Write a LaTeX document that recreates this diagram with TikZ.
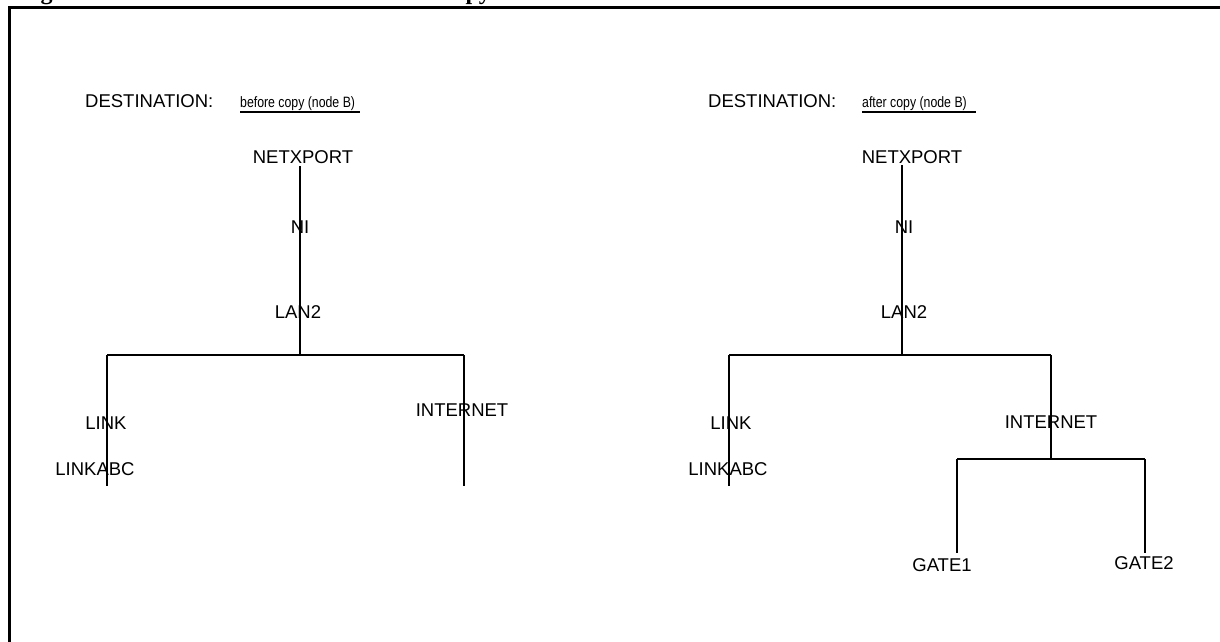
\documentclass[tikz,border=0pt]{standalone}
\usepackage{fontspec}
\setmainfont{Liberation Sans}
\newfontfamily\subfont{Liberation Sans}[FakeStretch=0.82]
\newfontfamily\titlefont{Liberation Serif}
\begin{document}
\begin{tikzpicture}[x=1pt,y=-1pt,
  lbl/.style={font=\fontsize{18.5}{20}\selectfont, inner sep=0pt},
  hdr/.style={font=\fontsize{18.5}{20}\selectfont, inner sep=0pt, anchor=base west},
  sub/.style={font=\subfont\fontsize{15}{17}\selectfont, inner sep=0pt, anchor=base west},
  ln/.style={line width=1.8pt},
  ttl/.style={font=\titlefont\bfseries\fontsize{24}{26}\selectfont, inner sep=0pt, anchor=base west}]
\useasboundingbox (0,0) rectangle (1220,641);
\clip (0,0) rectangle (1220,641);
% frame
\coordinate (fr1) at (1240,7.7);
\coordinate (fr2) at (9,7.7);
\coordinate (fr3) at (9,660);
\draw[line width=3pt] (fr1) -- (fr2) -- (fr3);
% clipped title
\node[ttl] (title1) at (19,-1) {Figure};
\node[ttl] (title2) at (436,-1) {Copy};

% ===== left tree =====
\node[hdr] (ldest) at (85,107) {DESTINATION:};
\node[sub] (lsub) at (240,107) {before copy (node B)};
\coordinate (lsubu1) at (240,112);
\coordinate (lsubu2) at (360,112);
\draw[line width=1.5pt] (lsubu1) -- (lsubu2);

\coordinate (Ltop) at (300,166);
\coordinate (Lj) at (300,355);
\coordinate (Ljl) at (107,355);
\coordinate (Ljr) at (464,355);
\coordinate (Lle) at (107,486);
\coordinate (Lre) at (464,486);
\draw[ln] (Ltop) -- (Lj);
\draw[ln] (Ljl) -- (Ljr);
\draw[ln] (Ljl) -- (Lle);
\draw[ln] (Ljr) -- (Lre);

\node[lbl] (lnet) at (303,157) {NETXPORT};
\node[lbl] (lni) at (300,227) {NI};
\node[lbl] (llan) at (298,312) {LAN2};
\node[lbl] (llink) at (106,423) {LINK};
\node[lbl] (llabc) at (95,469) {LINKABC};
\node[lbl] (linet) at (462,410) {INTERNET};

% ===== right tree =====
\node[hdr] (rdest) at (708,107) {DESTINATION:};
\node[sub] (rsub) at (862,107) {after copy (node B)};
\coordinate (rsubu1) at (862,112);
\coordinate (rsubu2) at (976,112);
\draw[line width=1.5pt] (rsubu1) -- (rsubu2);

\coordinate (Rtop) at (902,165);
\coordinate (Rj) at (902,355);
\coordinate (Rjl) at (729,355);
\coordinate (Rjr) at (1051,355);
\coordinate (Rle) at (729,486);
\coordinate (Rj2) at (1051,459);
\coordinate (Rg1) at (957,459);
\coordinate (Rg2) at (1145,459);
\coordinate (Rg1e) at (957,553);
\coordinate (Rg2e) at (1145,553);
\draw[ln] (Rtop) -- (Rj);
\draw[ln] (Rjl) -- (Rjr);
\draw[ln] (Rjl) -- (Rle);
\draw[ln] (Rjr) -- (Rj2);
\draw[ln] (Rg1) -- (Rg2);
\draw[ln] (Rg1) -- (Rg1e);
\draw[ln] (Rg2) -- (Rg2e);

\node[lbl] (rnet) at (912,157) {NETXPORT};
\node[lbl] (rni) at (904,227) {NI};
\node[lbl] (rlan) at (904,312) {LAN2};
\node[lbl] (rlink) at (731,423) {LINK};
\node[lbl] (rlabc) at (728,469) {LINKABC};
\node[lbl] (rinet) at (1051,422) {INTERNET};
\node[lbl] (rg1) at (942,565) {GATE1};
\node[lbl] (rg2) at (1144,563) {GATE2};
\end{tikzpicture}
\end{document}
